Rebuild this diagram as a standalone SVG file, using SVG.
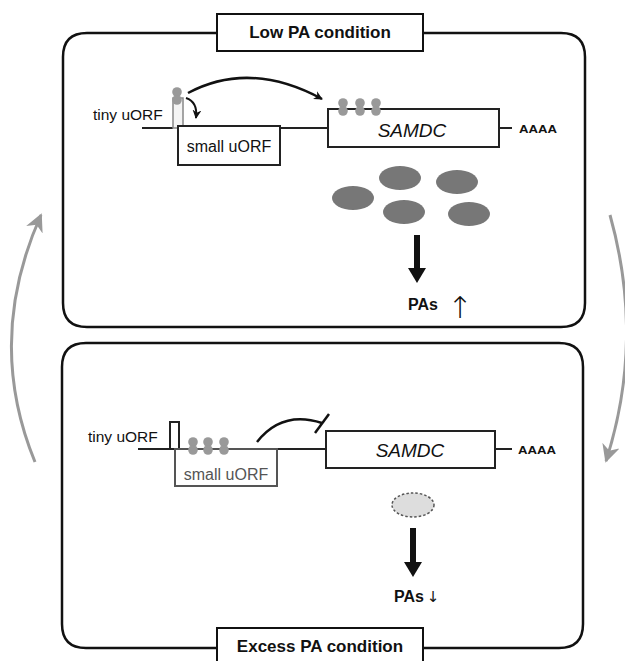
<svg xmlns="http://www.w3.org/2000/svg" width="625" height="661" viewBox="0 0 625 661">
<style>
.panel{fill:none;stroke:#111;stroke-width:2.5}
.lbl{fill:#fff;stroke:#111;stroke-width:2}
.gene{fill:#fff;stroke:#222;stroke-width:2}
.mrna{fill:none;stroke:#222;stroke-width:2}
.t{font-family:"Liberation Sans",Arial,sans-serif;fill:#111}
.b{font-weight:bold}
.ell{fill:#777}
.side{fill:none;stroke:#999;stroke-width:3}
</style>
<defs>
<g id="ribo"><circle cx="0" cy="-4" r="4.8" fill="#999"/><circle cx="0" cy="4" r="4.8" fill="#999"/></g>
<marker id="ah" viewBox="0 0 10 10" refX="9" refY="5" markerWidth="9" markerHeight="9" orient="auto" markerUnits="userSpaceOnUse"><path d="M0,0 L10,5 L0,10 L3,5 z" fill="#111"/></marker>
<marker id="ag" viewBox="0 0 10 10" refX="9" refY="5" markerWidth="18" markerHeight="18" orient="auto" markerUnits="userSpaceOnUse"><path d="M0,0 L10,5 L0,10 L3,5 z" fill="#999"/></marker>
</defs>
<rect width="625" height="661" fill="#fff"/>

<g id="top-panel">
<path class="panel" d="M217,33 H87 Q63,33 63,57 V303 Q63,327 87,327 H561 Q585,327 585,303 V57 Q585,33 561,33 H423"/>
<rect class="lbl" x="217" y="14" width="206" height="37"/>
<text class="t b" x="320" y="38" font-size="17" text-anchor="middle">Low PA condition</text>
</g>

<g id="bottom-panel">
<path class="panel" d="M217,648 H86 Q62,648 62,624 V367 Q62,343 86,343 H559 Q583,343 583,367 V624 Q583,648 559,648 H423"/>
<rect class="lbl" x="217" y="628" width="206" height="40"/>
<text class="t b" x="320" y="652" font-size="17" text-anchor="middle">Excess PA condition</text>
</g>

<g id="top-mrna">
<path class="mrna" d="M142,128 H173 M280,128 H328 M499,128 H512"/>
<text class="t" x="93" y="120" font-size="15.5">tiny uORF</text>
<rect x="173" y="98" width="10" height="30" fill="#f4f4f4" stroke="#888" stroke-width="1.5"/>
<use href="#ribo" x="177" y="96"/>
<rect class="gene" x="178" y="126" width="102" height="39"/>
<text class="t" x="229" y="152" font-size="16" text-anchor="middle">small uORF</text>
<rect class="gene" x="328" y="109" width="171" height="38"/>
<use href="#ribo" x="343" y="107"/><use href="#ribo" x="360" y="107"/><use href="#ribo" x="376" y="107"/>
<text class="t" x="412" y="137" font-size="19" font-style="italic" text-anchor="middle">SAMDC</text>
<text class="t b" x="519" y="133" font-size="11" textLength="38" lengthAdjust="spacingAndGlyphs">AAAA</text>
</g>

<g id="top-enzymes">
<ellipse class="ell" cx="353" cy="198" rx="21" ry="12"/>
<ellipse class="ell" cx="400" cy="178" rx="21" ry="12"/>
<ellipse class="ell" cx="457" cy="182" rx="21" ry="12"/>
<ellipse class="ell" cx="404" cy="212" rx="21" ry="12"/>
<ellipse class="ell" cx="469" cy="214" rx="21" ry="12"/>
</g>

<g id="top-pas">
<text class="t b" x="408" y="310" font-size="16">PAs</text>
<text x="460" y="318" font-size="30" font-family="DejaVu Sans,sans-serif" font-weight="200" fill="#111" text-anchor="middle">↑</text>
</g>

<g id="bottom-mrna">
<path class="mrna" d="M138,449 H170 M277,449 H326 M495,449 H512"/>
<text class="t" x="88" y="442" font-size="15.5">tiny uORF</text>
<rect class="gene" x="170" y="422" width="9" height="27"/>
<rect x="175" y="449" width="102" height="37" fill="#fff" stroke="#555" stroke-width="2"/>
<use href="#ribo" x="193" y="446"/><use href="#ribo" x="208" y="446"/><use href="#ribo" x="224" y="446"/>
<text x="226" y="480" font-size="16" text-anchor="middle" font-family="Liberation Sans,Arial,sans-serif" fill="#555">small uORF</text>
<rect class="gene" x="326" y="431" width="169" height="37"/>
<text class="t" x="410" y="457" font-size="19" font-style="italic" text-anchor="middle">SAMDC</text>
<text class="t b" x="518" y="454" font-size="11" textLength="38" lengthAdjust="spacingAndGlyphs">AAAA</text>
</g>

<g id="bottom-enzyme">
<ellipse cx="413" cy="505" rx="21" ry="12" fill="#ddd" stroke="#555" stroke-width="1.5" stroke-dasharray="2.5,2"/>
</g>

<g id="bottom-pas">
<text class="t b" x="394" y="602" font-size="16">PAs</text>
<text x="433" y="602" font-size="15" font-family="DejaVu Sans,sans-serif" fill="#111" text-anchor="middle">↓</text>
</g>

<g id="connectors">
<path d="M188,93 Q250,60 322,99" fill="none" stroke="#111" stroke-width="2.5" marker-end="url(#ah)"/>
<path d="M186,98 Q198,102 196,118" fill="none" stroke="#111" stroke-width="2" marker-end="url(#ah)"/>
<path d="M417,235 V270" stroke="#111" stroke-width="6"/>
<path d="M408,268 H426 L417,283 z" fill="#111"/>
<path d="M257,442 Q282,410 322,423" fill="none" stroke="#111" stroke-width="2.5"/>
<path d="M315,433 L329,414" stroke="#111" stroke-width="2.5"/>
<path d="M413,528 V564" stroke="#111" stroke-width="6"/>
<path d="M404,562 H422 L413,577 z" fill="#111"/>
<path class="side" d="M35,462 Q-15,340 41,215" marker-end="url(#ag)"/>
<path class="side" d="M610,215 Q645,340 606,461" marker-end="url(#ag)"/>
</g>
</svg>
